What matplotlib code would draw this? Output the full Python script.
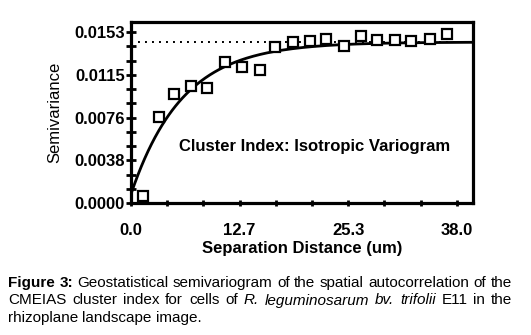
import numpy as np
import matplotlib
matplotlib.use('Agg')
import matplotlib.pyplot as plt

# lag distances (um) and semivariance
lag = [1.4, 3.3, 5.0, 7.0, 8.9, 11.0, 13.0, 15.0, 16.8, 18.9, 20.9, 22.8,
       24.9, 26.8, 28.7, 30.8, 32.7, 34.85, 36.9]
gamma = [0.0006, 0.0077, 0.0098, 0.0105, 0.01025, 0.01264, 0.01213, 0.01189,
         0.01398, 0.01437, 0.01452, 0.01467, 0.01405, 0.01497, 0.01458,
         0.01458, 0.01449, 0.01467, 0.01509]

# exponential model fit shown in the figure
nugget = 0.0008
sill = 0.0144
rng = 6.0

xticks = [0.0, 38.0 / 3, 2 * 38.0 / 3, 38.0]
xticklabels = ['0.0', '12.7', '25.3', '38.0']
yticks = [0.0, 0.0153 / 4, 0.0153 / 2, 3 * 0.0153 / 4, 0.0153]
yticklabels = ['0.0000', '0.0038', '0.0076', '0.0115', '0.0153']

plt.rcParams['font.family'] = ['Liberation Sans', 'DejaVu Sans']

fig = plt.figure(figsize=(5.31, 3.35), dpi=100)
ax = fig.add_axes([131 / 531, 1 - 203 / 335, (473 - 131) / 531, (203 - 22) / 335])

h = np.linspace(0, 39.9, 300)
model = nugget + (sill - nugget) * (1 - np.exp(-h / rng))
ax.axhline(sill, color='black', lw=1.4, dashes=[1, 2.6], zorder=1)
ax.plot(h, model, color='black', lw=2.0, zorder=2)
ax.plot(lag, gamma, 's', ms=7.3, mfc='white', mec='black', mew=1.6, zorder=3)

ax.set_xlim(0, 39.9)
ax.set_ylim(0, 0.0162)
ax.set_xticks(xticks)
ax.set_xticklabels(xticklabels, fontsize=12, fontweight='bold')
ax.set_xticks(np.linspace(0, 38, 10), minor=True)
ax.set_yticks(yticks)
ax.set_yticklabels(yticklabels, fontsize=12, fontweight='bold')
ax.set_yticks(np.linspace(0, 0.0153, 13), minor=True)

ax.tick_params(axis='y', which='both', direction='inout', length=7, width=2, pad=1)
ax.tick_params(axis='x', which='both', direction='inout', length=5, width=2, pad=12)
for s in ax.spines.values():
    s.set_linewidth(2.3)

ax.set_ylabel('Semivariance', fontsize=12)
ax.yaxis.set_label_coords(-0.2, 0.5)
ax.set_xlabel('Separation Distance (um)', fontsize=12, fontweight='bold', labelpad=2)

ax.text(21.4, 0.0051, 'Cluster Index: Isotropic Variogram', fontsize=12,
        fontweight='bold', ha='center', va='center')

# justified caption, laid out word by word
caption = [
    ([('Figure', 'bold', 'normal'), ('3:', 'bold', 'normal')] +
     [(w, 'normal', 'normal') for w in
      'Geostatistical semivariogram of the spatial autocorrelation of the'.split()], True),
    ([(w, 'normal', 'normal') for w in 'CMEIAS cluster index for cells of'.split()] +
     [(w, 'normal', 'italic') for w in 'R. leguminosarum bv. trifolii'.split()] +
     [(w, 'normal', 'normal') for w in 'E11 in the'.split()], True),
    ([(w, 'normal', 'normal') for w in 'rhizoplane landscape image.'.split()], False),
]
baselines = [287, 304.5, 322]
x0, x1 = 8, 512
renderer = fig.canvas.get_renderer()

# pick the caption size so the first line fills the width with plain spaces
probe = fig.text(0, 0, ' ', fontsize=10)
space10 = probe.get_window_extent(renderer).width
probe.remove()
first = caption[0][0]
w10 = 0
for w, wt, st in first:
    t = fig.text(0, 0, w, fontsize=10, fontweight=wt, fontstyle=st)
    w10 += t.get_window_extent(renderer).width
    t.remove()
w10 += space10 * (len(first) - 1)
capsize = 10 * (x1 - x0) / w10

for (words, justify), yb in zip(caption, baselines):
    texts = []
    for w, wt, st in words:
        t = fig.text(0, 1 - yb / 335, w, fontsize=capsize, fontweight=wt, fontstyle=st,
                     ha='left', va='baseline')
        texts.append(t)
    widths = [t.get_window_extent(renderer).width for t in texts]
    if justify:
        gap = (x1 - x0 - sum(widths)) / (len(texts) - 1)
    else:
        gap = space10 * capsize / 10
    x = x0
    for t, wd in zip(texts, widths):
        t.set_x(x / 531)
        x += wd + gap

fig.savefig('out.png', dpi=100)
